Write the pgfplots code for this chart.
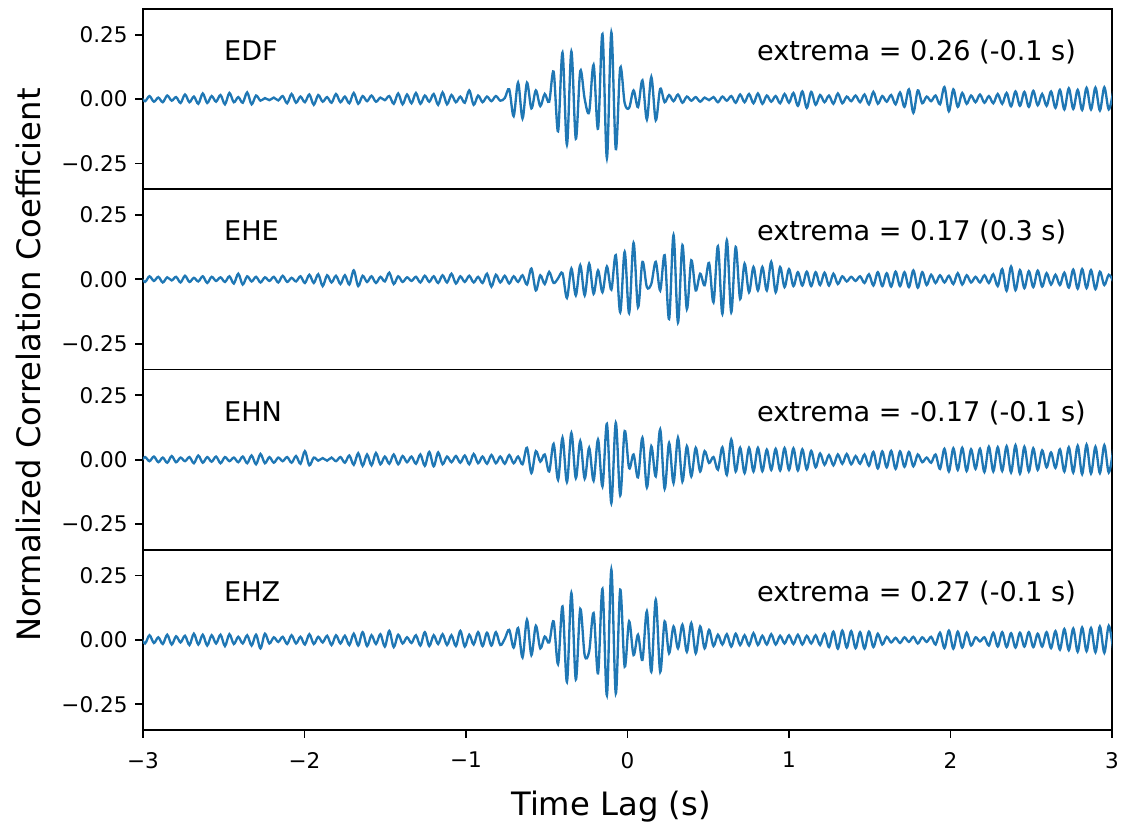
\documentclass[border=0pt]{standalone}
\usepackage{fontspec}
\setmainfont{DejaVu Sans}
\usepackage{pgfplots}
\usepackage{pgfplotstable}
\pgfplotsset{compat=1.18}
\definecolor{mplblue}{RGB}{31,119,180}
\pgfplotstableread{
t a b c d
-3.0150 0.010 0.008 -0.008 0.012
-2.9875 -0.008 -0.010 0.010 -0.014
-2.9600 0.012 0.012 -0.006 0.018
-2.9325 -0.010 -0.006 0.012 -0.012
-2.9050 0.006 0.010 -0.010 0.010
-2.8775 -0.012 -0.012 0.008 -0.016
-2.8500 0.014 0.008 -0.012 0.020
-2.8225 -0.006 -0.004 0.014 -0.018
-2.7950 0.008 0.010 -0.010 0.014
-2.7675 -0.015 -0.012 0.008 -0.010
-2.7400 0.018 0.014 -0.006 0.016
-2.7125 -0.012 -0.010 0.010 -0.020
-2.6850 0.010 0.006 -0.014 0.024
-2.6575 -0.018 -0.008 0.016 -0.018
-2.6300 0.022 0.012 -0.012 0.020
-2.6025 -0.015 -0.014 0.010 -0.022
-2.5750 0.012 0.010 -0.008 0.018
-2.5475 -0.010 -0.006 0.012 -0.014
-2.5200 0.016 0.008 -0.014 0.020
-2.4925 -0.020 -0.010 0.010 -0.024
-2.4650 0.024 0.012 -0.006 0.022
-2.4375 -0.012 -0.016 0.008 -0.016
-2.4100 0.008 0.022 -0.010 0.012
-2.3825 -0.014 -0.020 0.012 -0.014
-2.3550 0.026 0.012 -0.014 0.018
-2.3275 -0.020 -0.008 0.016 -0.022
-2.3000 0.014 0.010 -0.018 0.020
-2.2725 -0.006 -0.012 0.022 -0.033
-2.2450 0.004 0.008 -0.014 0.024
-2.2175 -0.004 -0.006 0.010 -0.014
-2.1900 0.006 0.010 -0.012 0.010
-2.1625 -0.005 -0.012 0.008 -0.008
-2.1350 0.012 0.014 -0.006 0.012
-2.1075 -0.016 -0.010 0.010 -0.016
-2.0800 0.020 0.006 -0.012 0.018
-2.0525 -0.014 -0.008 0.014 -0.014
-2.0250 0.010 0.012 -0.016 0.012
-1.9975 -0.012 -0.014 0.033 -0.018
-1.9700 0.018 0.018 -0.022 0.022
-1.9425 -0.022 -0.014 0.008 -0.016
-1.9150 0.016 0.020 -0.004 0.012
-1.8875 -0.010 -0.026 0.006 -0.010
-1.8600 0.008 0.016 -0.004 0.016
-1.8325 -0.014 -0.012 0.008 -0.020
-1.8050 0.020 0.014 -0.006 0.018
-1.7775 -0.012 -0.018 0.010 -0.014
-1.7500 0.010 0.016 -0.012 0.016
-1.7225 -0.016 -0.020 0.016 -0.020
-1.6950 0.024 0.035 -0.020 0.024
-1.6675 -0.018 -0.026 0.025 -0.022
-1.6400 0.012 0.014 -0.024 0.030
-1.6125 -0.008 -0.010 0.020 -0.024
-1.5850 0.014 0.012 -0.022 0.018
-1.5575 -0.010 -0.014 0.026 -0.016
-1.5300 0.006 0.010 -0.018 0.022
-1.5025 -0.004 -0.008 0.012 -0.026
-1.4750 0.012 0.026 -0.016 0.035
-1.4475 -0.018 -0.018 0.020 -0.028
-1.4200 0.022 0.012 -0.018 0.020
-1.3925 -0.020 -0.010 0.014 -0.014
-1.3650 0.018 0.008 -0.010 0.010
-1.3375 -0.016 -0.006 0.012 -0.012
-1.3100 0.024 0.010 -0.016 0.018
-1.2825 -0.018 -0.012 0.020 -0.022
-1.2550 0.014 0.014 -0.024 0.030
-1.2275 -0.010 -0.010 0.030 -0.024
-1.2000 0.020 0.012 -0.026 0.018
-1.1725 -0.022 -0.014 0.028 -0.016
-1.1450 0.026 0.016 -0.018 0.022
-1.1175 -0.020 -0.012 0.012 -0.020
-1.0900 0.016 0.022 -0.010 0.018
-1.0625 -0.012 -0.016 0.014 -0.024
-1.0350 0.010 0.012 -0.012 0.035
-1.0075 -0.014 -0.010 0.016 -0.026
-0.9800 0.034 0.014 -0.018 0.020
-0.9525 -0.022 -0.012 0.022 -0.018
-0.9250 0.014 0.010 -0.014 0.030
-0.8975 -0.012 -0.014 0.012 -0.024
-0.8700 0.010 0.022 -0.016 0.028
-0.8425 -0.008 -0.028 0.018 -0.022
-0.8150 0.012 0.018 -0.014 0.030
-0.7875 -0.006 -0.012 0.012 -0.020
-0.7600 0.004 0.014 -0.016 0.004
-0.7325 0.038 -0.016 0.018 0.039
-0.7050 -0.066 0.012 -0.014 -0.030
-0.6775 0.064 -0.010 0.012 0.046
-0.6500 -0.075 0.016 -0.018 -0.068
-0.6225 0.064 -0.020 0.046 0.078
-0.5950 -0.036 0.042 -0.052 -0.059
-0.5675 0.034 -0.043 0.033 0.055
-0.5400 -0.027 0.016 -0.008 -0.033
-0.5125 0.020 -0.018 0.020 0.013
-0.4850 -0.010 0.029 -0.046 -0.010
-0.4575 0.107 -0.014 0.061 0.072
-0.4300 -0.125 0.004 -0.078 -0.094
-0.4025 0.181 0.024 0.085 0.130
-0.3750 -0.177 -0.072 -0.087 -0.163
-0.3475 0.185 0.042 0.104 0.182
-0.3200 -0.154 -0.062 -0.072 -0.154
-0.2925 0.109 0.055 0.072 0.120
-0.2650 0.000 -0.062 -0.074 -0.060
-0.2375 -0.050 0.061 0.046 -0.045
-0.2100 0.133 -0.056 -0.082 0.104
-0.1825 -0.115 0.035 0.078 -0.130
-0.1550 0.253 -0.050 -0.104 0.198
-0.1275 -0.229 0.050 0.139 -0.215
-0.1000 0.259 -0.040 -0.169 0.273
-0.0725 -0.194 0.094 0.143 -0.208
-0.0450 0.122 -0.128 -0.139 0.195
-0.0175 -0.015 0.107 0.111 -0.104
0.0100 -0.034 -0.131 -0.033 0.072
0.0375 0.034 0.142 0.020 -0.059
0.0650 -0.031 -0.108 -0.069 0.020
0.0925 0.073 0.068 0.085 -0.078
0.1200 -0.079 -0.030 -0.108 0.111
0.1475 0.086 -0.017 0.052 -0.124
0.1750 -0.082 0.068 -0.065 0.156
0.2025 0.040 -0.043 0.117 -0.124
0.2300 -0.012 0.094 -0.113 0.072
0.2575 0.016 -0.154 0.065 -0.052
0.2850 -0.008 0.172 -0.091 0.052
0.3125 0.018 -0.167 0.085 -0.033
0.3400 -0.014 0.133 -0.085 0.059
0.3675 0.010 -0.115 0.052 -0.046
0.3950 -0.006 0.074 -0.065 0.065
0.4225 0.008 -0.043 0.046 -0.052
0.4500 -0.010 0.022 -0.046 0.052
0.4775 0.006 -0.023 0.033 -0.033
0.5050 -0.004 0.064 -0.013 0.039
0.5325 0.008 -0.089 0.010 -0.024
0.5600 -0.012 0.129 -0.039 0.020
0.5875 0.010 -0.134 0.048 -0.018
0.6150 -0.006 0.152 -0.059 0.022
0.6425 0.012 -0.128 0.078 -0.026
0.6700 -0.014 0.126 -0.046 0.024
0.6975 0.018 -0.076 0.046 -0.020
0.7250 -0.012 0.061 -0.052 0.018
0.7525 0.020 -0.050 0.046 -0.022
0.7800 -0.016 0.048 -0.046 0.026
0.8075 0.022 -0.043 0.046 -0.020
0.8350 -0.018 0.048 -0.045 0.016
0.8625 0.014 -0.043 0.039 -0.018
0.8900 -0.010 0.068 -0.040 0.022
0.9175 0.012 -0.050 0.042 -0.018
0.9450 -0.016 0.048 -0.042 0.016
0.9725 0.020 -0.030 0.045 -0.014
1.0000 -0.014 0.040 -0.040 0.018
1.0275 0.024 -0.026 0.044 -0.016
1.0550 -0.026 0.028 -0.042 0.020
1.0825 0.030 -0.024 0.040 -0.018
1.1100 -0.034 0.030 -0.038 0.016
1.1375 0.028 -0.026 0.034 -0.014
1.1650 -0.022 0.028 -0.030 0.018
1.1925 0.016 -0.022 0.024 -0.020
1.2200 -0.012 0.026 -0.020 0.024
1.2475 0.014 -0.024 0.018 -0.028
1.2750 -0.018 0.022 -0.022 0.032
1.3025 0.022 -0.018 0.020 -0.034
1.3300 -0.016 0.012 -0.016 0.036
1.3575 0.010 -0.008 0.022 -0.030
1.3850 -0.008 0.010 -0.018 0.034
1.4125 0.014 -0.006 0.014 -0.032
1.4400 -0.012 0.012 -0.016 0.030
1.4675 0.018 -0.014 0.020 -0.034
1.4950 -0.020 0.020 -0.024 0.032
1.5225 0.028 -0.024 0.030 -0.028
1.5500 -0.018 0.028 -0.034 0.024
1.5775 0.012 -0.026 0.032 -0.018
1.6050 -0.010 0.024 -0.030 0.012
1.6325 0.016 -0.028 0.034 -0.010
1.6600 -0.020 0.030 -0.036 0.008
1.6875 0.026 -0.026 0.032 -0.012
1.7150 -0.030 0.028 -0.028 0.010
1.7425 0.038 -0.030 0.030 -0.008
1.7700 -0.053 0.035 -0.026 0.012
1.7975 0.034 -0.032 0.020 -0.014
1.8250 -0.016 0.028 -0.010 0.010
1.8525 0.010 -0.022 0.008 -0.008
1.8800 -0.008 0.018 -0.012 0.012
1.9075 0.014 -0.014 0.020 -0.018
1.9350 -0.020 0.016 -0.036 0.028
1.9625 0.047 -0.012 0.042 -0.032
1.9900 -0.047 0.014 -0.046 0.036
2.0175 0.038 -0.018 0.044 -0.034
2.0450 -0.030 0.024 -0.040 0.032
2.0725 0.024 -0.020 0.046 -0.030
2.1000 -0.018 0.016 -0.044 0.028
2.1275 0.014 -0.012 0.040 -0.022
2.1550 -0.012 0.010 -0.036 0.010
2.1825 0.018 -0.012 0.042 -0.006
2.2100 -0.014 0.016 -0.048 0.010
2.2375 0.012 -0.014 0.050 -0.022
2.2650 -0.016 0.020 -0.046 0.028
2.2925 0.020 -0.026 0.048 -0.026
2.3200 -0.018 0.040 -0.044 0.030
2.3475 0.024 -0.044 0.052 -0.028
2.3750 -0.028 0.050 -0.050 0.026
2.4025 0.030 -0.042 0.056 -0.030
2.4300 -0.026 0.036 -0.054 0.028
2.4575 0.028 -0.034 0.050 -0.026
2.4850 -0.030 0.032 -0.046 0.030
2.5125 0.032 -0.030 0.044 -0.028
2.5400 -0.024 0.034 -0.040 0.024
2.5675 0.020 -0.028 0.036 -0.026
2.5950 -0.026 0.024 -0.030 0.030
2.6225 0.030 -0.020 0.028 -0.032
2.6500 -0.034 0.018 -0.032 0.034
2.6775 0.036 -0.022 0.040 -0.038
2.7050 -0.040 0.026 -0.046 0.042
2.7325 0.042 -0.032 0.048 -0.040
2.7600 -0.038 0.038 -0.050 0.044
2.7875 0.036 -0.036 0.054 -0.046
2.8150 -0.042 0.040 -0.056 0.048
2.8425 0.044 -0.034 0.058 -0.044
2.8700 -0.040 0.036 -0.054 0.046
2.8975 0.045 -0.038 0.050 -0.048
2.9250 -0.044 0.030 -0.052 0.052
2.9525 0.046 -0.022 0.056 -0.050
2.9800 -0.040 0.018 -0.050 0.055
3.0075 0.030 -0.008 0.040 -0.040
}\corr

\pgfplotsset{panel/.style={
  scale only axis, width=436.05pt, height=81.11pt,
  anchor=south west,
  xmin=-3, xmax=3, ymin=-0.35, ymax=0.35,
  ytick={-0.25,0,0.25}, yticklabels={−0.25,0.00,0.25},
  xtick={-3,-2,-1,0,1,2,3}, xticklabels={−3,−2,−1,0,1,2,3},
  tick align=outside, xtick pos=bottom, ytick pos=left,
  major tick length=3.5pt,
  every tick/.style={black, line width=0.8pt},
  axis line style={black, line width=0.8pt},
  tick label style={font=\fontsize{9.7}{11}\selectfont},
  yticklabel style={anchor=east, inner sep=0pt, xshift=-3.25pt},
  xticklabel style={anchor=north, inner sep=0pt, yshift=-6.3pt},
}}
\newcommand{\ann}[2]{%
  \node[anchor=base west, inner sep=0pt, font=\fontsize{12.2}{14}\selectfont] at (axis cs:-2.5,0.15) {#1};
  \node[anchor=base west, inner sep=0pt, font=\fontsize{12.2}{14}\selectfont] at (axis cs:0.8,0.15) {#2};}

\begin{document}
\begin{tikzpicture}
\useasboundingbox (-64.35pt,-44.55pt) rectangle (441.45pt,328.5pt);
\begin{axis}[panel, at={(0pt,243.33pt)}, xmajorticks=false]
\addplot[mplblue, line width=1.05pt, smooth, tension=0.55, no markers] table[x=t, y=a] {\corr};
\ann{EDF}{extrema = 0.26 (-0.1 s)}
\end{axis}
\begin{axis}[panel, at={(0pt,162.22pt)}, xmajorticks=false]
\addplot[mplblue, line width=1.05pt, smooth, tension=0.55, no markers] table[x=t, y=b] {\corr};
\ann{EHE}{extrema = 0.17 (0.3 s)}
\end{axis}
\begin{axis}[panel, at={(0pt,81.11pt)}, xmajorticks=false]
\addplot[mplblue, line width=1.05pt, smooth, tension=0.55, no markers] table[x=t, y=c] {\corr};
\ann{EHN}{extrema = -0.17 (-0.1 s)}
\end{axis}
\begin{axis}[panel, at={(0pt,0pt)}]
\addplot[mplblue, line width=1.05pt, smooth, tension=0.55, no markers] table[x=t, y=d] {\corr};
\ann{EHZ}{extrema = 0.27 (-0.1 s)}
\end{axis}
\node[anchor=base, inner sep=0pt, font=\fontsize{14.5}{17}\selectfont] at (210.6pt,-38.25pt) {Time Lag (s)};
\node[rotate=90, anchor=center, inner sep=0pt, font=\fontsize{14.5}{17}\selectfont] at (-51.5pt,164.25pt) {Normalized Correlation Coefficient};
\end{tikzpicture}
\end{document}
